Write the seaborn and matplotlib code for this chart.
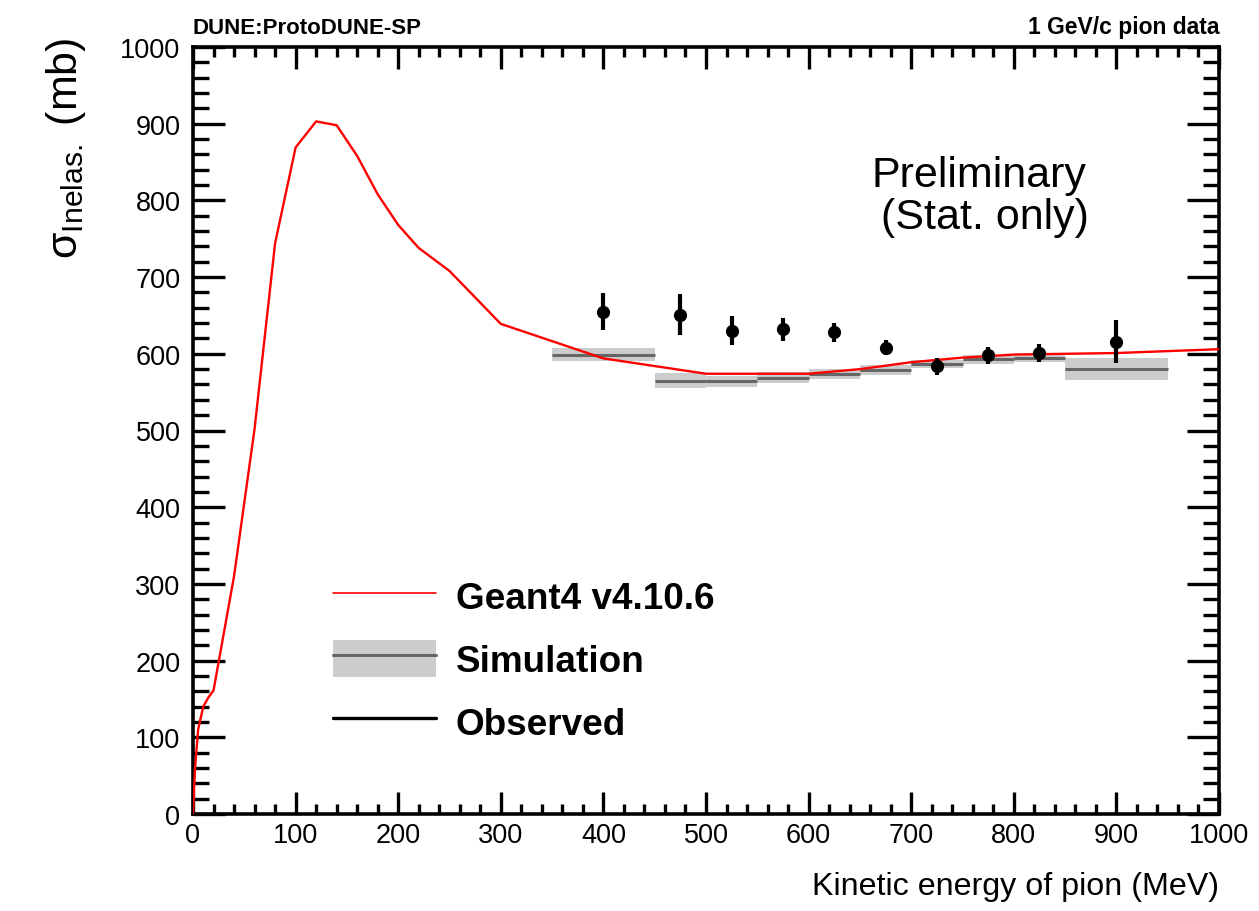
import numpy as np
import matplotlib
matplotlib.use("Agg")
import matplotlib.pyplot as plt
import seaborn as sns
from matplotlib.lines import Line2D
from matplotlib.patches import Patch
from matplotlib.legend_handler import HandlerTuple

# --- Geant4 v4.10.6 prediction ---
g4_ke = [0, 2, 5, 10, 15, 20, 40, 60, 80, 100, 120, 140, 160, 180, 200, 220, 250,
         300, 400, 500, 600, 650, 700, 750, 800, 900, 1000]
g4_xs = [0, 60, 110, 140, 152, 161, 310, 502, 744, 869, 903, 898, 858, 808, 768, 738, 708,
         639, 594, 574, 574, 580, 589, 595, 599, 601, 606]

# --- Simulation (bins) ---
sim_lo = [350, 450, 500, 550, 600, 650, 700, 750, 800, 850]
sim_hi = [450, 500, 550, 600, 650, 700, 750, 800, 850, 950]
sim_xs = [599, 565, 564, 569, 574, 579, 587, 593, 595, 580]
sim_err = [9, 9.5, 7.5, 7, 6.5, 6, 5, 6, 6, 14]

# --- Observed data ---
obs_ke = [400, 475, 525, 575, 625, 675, 725, 775, 825, 900]
obs_xs = [655, 651, 630, 632, 628, 608, 584, 598, 601, 616]
obs_err = [24, 27, 19, 15, 12, 10, 11, 11, 12, 28]

sns.set_theme(style="ticks")
plt.rcParams["font.family"] = ["Liberation Sans", "DejaVu Sans"]
plt.rcParams["mathtext.fontset"] = "custom"
plt.rcParams["mathtext.rm"] = "Liberation Sans"
plt.rcParams["mathtext.it"] = "Liberation Sans:italic"
plt.rcParams["text.color"] = "black"
plt.rcParams["axes.labelcolor"] = "black"

fig = plt.figure(figsize=(12.59, 9.12), dpi=100)
ax = fig.add_axes([193 / 1259, 97 / 912, 1026 / 1259, 767 / 912])

# simulation bands
lo = np.array(sim_lo)
hi = np.array(sim_hi)
val = np.array(sim_xs)
err = np.array(sim_err)
ax.bar((lo + hi) / 2, 2 * err, bottom=val - err, width=hi - lo, color="#cccccc",
       edgecolor="none", zorder=2)
ax.hlines(val, lo, hi, color="#666666", lw=2.2, zorder=3)

# Geant4 curve
sns.lineplot(x=g4_ke, y=g4_xs, color="red", lw=1.7, ax=ax, zorder=4)

# data points
ax.errorbar(obs_ke, obs_xs, yerr=obs_err, fmt="o", color="black", ms=8.5,
            elinewidth=3, capsize=0, zorder=5)

ax.set_xlim(0, 1000)
ax.set_ylim(0, 1000)
ax.set_xticks(np.arange(0, 1001, 100))
ax.set_yticks(np.arange(0, 1001, 100))
ax.set_xticks(np.arange(0, 1001, 20), minor=True)
ax.set_yticks(np.arange(0, 1001, 20), minor=True)

for sp in ax.spines.values():
    sp.set_visible(True)
    sp.set_linewidth(2.6)
    sp.set_color("black")

ax.tick_params(axis="both", which="both", direction="in", top=True, right=True,
               width=2.4, color="black", labelsize=19.5, labelcolor="black")
ax.tick_params(axis="x", which="major", length=16, pad=6)
ax.tick_params(axis="x", which="minor", length=7)
ax.tick_params(axis="y", which="major", length=23, pad=9)
ax.tick_params(axis="y", which="minor", length=11.5)

ax.set_xlabel("Kinetic energy of pion (MeV)", fontsize=23.2, ha="right")
ax.xaxis.set_label_coords(1.0, -0.074)
ax.set_ylabel(r"$\mathrm{\sigma}_{\mathrm{Inelas.}}$ (mb)", fontsize=31, ha="right")
ax.yaxis.set_label_coords(-0.102, 1.013)

ax.text(0.0, 1.012, "DUNE:ProtoDUNE-SP", transform=ax.transAxes, fontsize=16,
        fontweight="bold", ha="left", va="bottom")
ax.text(1.0, 1.012, "1 GeV/c pion data", transform=ax.transAxes, fontsize=16.5,
        fontweight="bold", ha="right", va="bottom")
ax.text(0.766, 0.833, "Preliminary", transform=ax.transAxes, fontsize=31,
        ha="center", va="center")
ax.text(0.772, 0.778, "(Stat. only)", transform=ax.transAxes, fontsize=31,
        ha="center", va="center")

h_g4 = Line2D([], [], color="red", lw=1.2)
h_sim = (Patch(facecolor="#cccccc", edgecolor="none"), Line2D([], [], color="#666666", lw=2.2))
h_obs = Line2D([], [], color="black", lw=2.4)
leg = ax.legend([h_g4, h_sim, h_obs], ["Geant4 v4.10.6", "Simulation", "Observed"],
                handler_map={tuple: HandlerTuple(ndivide=1, pad=0)},
                loc="upper left", bbox_to_anchor=(0.118, 0.333), frameon=False,
                borderpad=0, handlelength=2.8, handleheight=1.17, handletextpad=0.54,
                labelspacing=0.645, prop={"size": 26.6, "weight": "bold"})

fig.savefig("out.png", dpi=100)
